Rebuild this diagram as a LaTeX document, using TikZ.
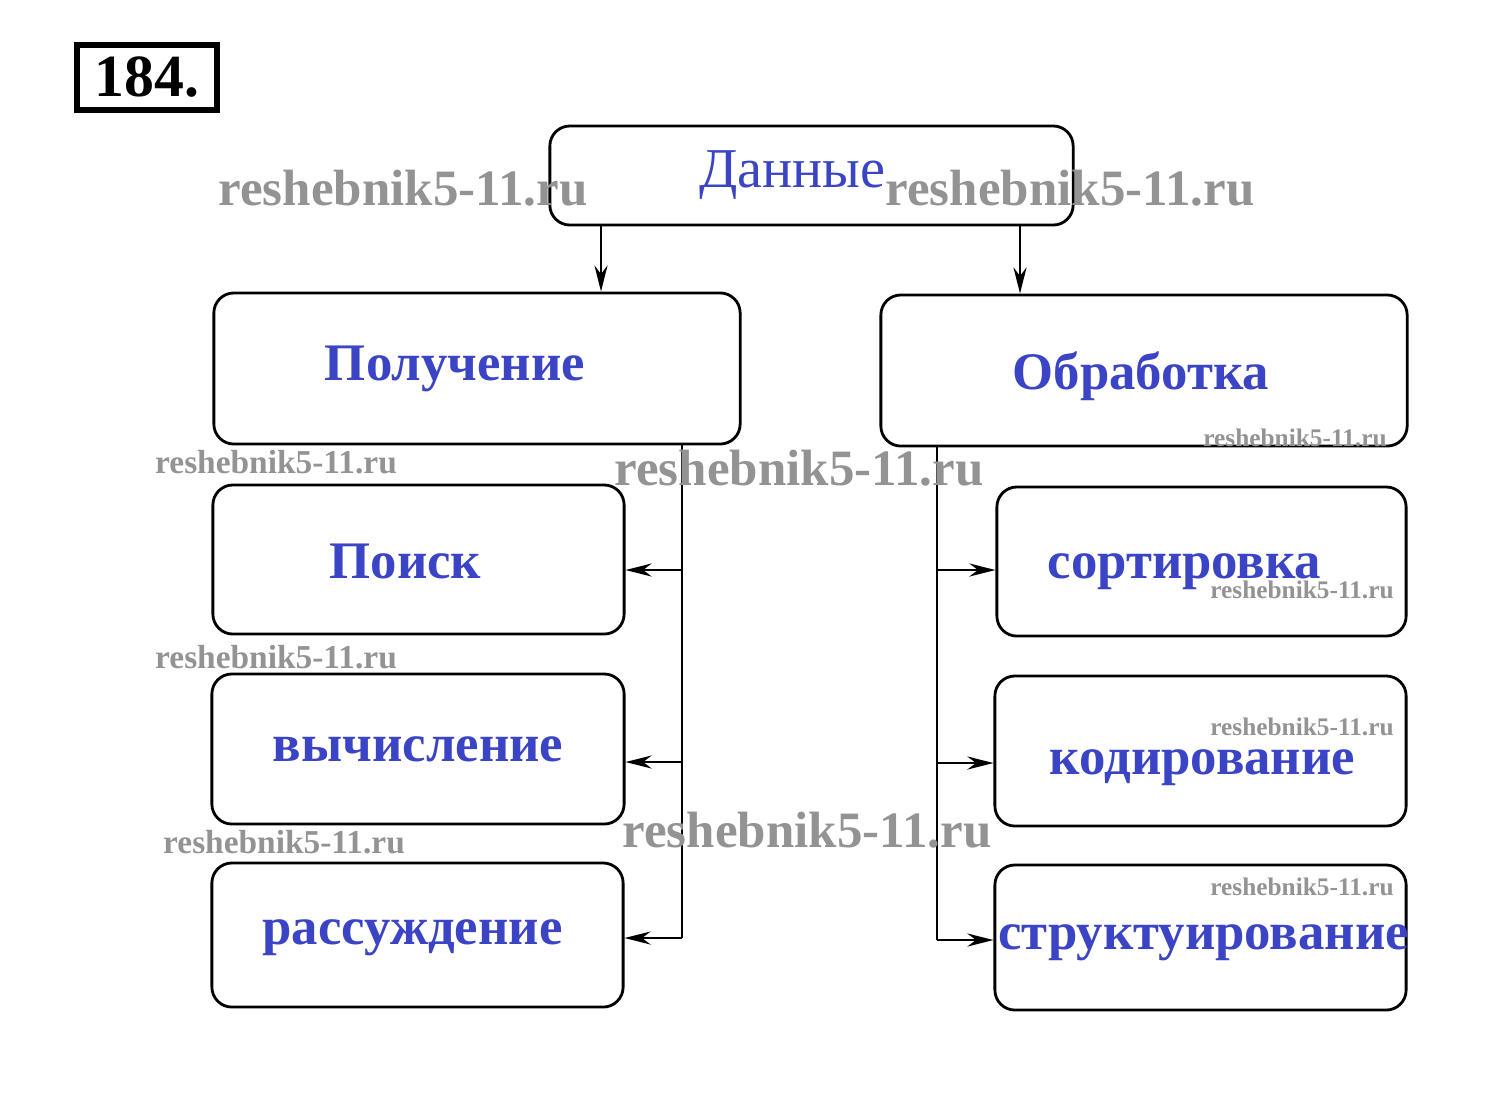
\documentclass[tikz,border=0pt]{standalone}
\usepackage{fontspec}
\setmainfont{Liberation Serif}
\usetikzlibrary{arrows.meta}
\definecolor{txtblue}{RGB}{58,68,196}
\tikzset{
 box/.style={draw,rounded corners=0.2cm,inner sep=0pt},
 lbl/.style={text=txtblue,font=\bfseries\fontsize{15}{18}\selectfont},
 arr/.style={-{Stealth[length=2.6mm,width=1.3mm]}},
 wmbig/.style={text=gray!85,font=\bfseries\fontsize{14.5}{16}\selectfont},
 wmmid/.style={text=gray!85,font=\bfseries\fontsize{9.5}{11}\selectfont},
 wmsml/.style={text=gray!85,font=\bfseries\fontsize{7.2}{9}\selectfont}
}
\begin{document}
\begin{tikzpicture}[x=0.01cm,y=-0.01cm,line width=0.8pt]
\useasboundingbox (0,0) rectangle (1489,1093);
\node[draw,line width=1.5pt,inner sep=0pt,minimum width=1.4cm,minimum height=0.65cm,font=\bfseries\fontsize{17}{20}\selectfont] (num) at (147,77.5) {184.};
\node[box,minimum width=5.23cm,minimum height=0.99cm,label={[lbl,font=\fontsize{16}{19}\selectfont,shift={(-19,0)}]center:Данные}] (dan) at (811.5,175.5) {};
\node[box,minimum width=5.26cm,minimum height=1.51cm,label={[lbl,shift={(-22,0)}]center:Получение}] (pol) at (477,368.5) {};
\node[box,minimum width=5.26cm,minimum height=1.51cm,label={[lbl,shift={(-3,6)}]center:Обработка}] (obr) at (1144,370.5) {};
\node[box,minimum width=4.11cm,minimum height=1.49cm,label={[lbl,shift={(-13,2)}]center:Поиск}] (poi) at (418.5,559.5) {};
\node[box,minimum width=4.12cm,minimum height=1.50cm,label={[lbl]center:вычисление}] (vych) at (418,749) {};
\node[box,minimum width=4.11cm,minimum height=1.44cm,label={[lbl,shift={(-5,3)}]center:рассуждение}] (ras) at (417.5,935) {};
\node[box,minimum width=4.09cm,minimum height=1.49cm,label={[lbl,shift={(-17,10)}]center:сортировка}] (sor) at (1201.5,561.5) {};
\node[box,minimum width=4.11cm,minimum height=1.50cm,label={[lbl,shift={(2,17)}]center:кодирование}] (kod) at (1200.5,751) {};
\node[box,minimum width=4.11cm,minimum height=1.45cm,label={[lbl,shift={(3,5)}]center:структуирование}] (str) at (1200.5,937.5) {};
\coordinate (a1) at (601,0);
\coordinate (a2) at (1020,0);
\coordinate (l1) at (682,570);
\coordinate (l2) at (682,762);
\coordinate (l3) at (682,938);
\coordinate (r1) at (937,570);
\coordinate (r2) at (937,763);
\coordinate (r3) at (937,940);
\draw[arr] (dan.south -| a1) -- (pol.north -| a1);
\draw[arr] (dan.south -| a2) -- (obr.north -| a2);
\draw (pol.south -| l1) -- (l3);
\draw (obr.south -| r1) -- (r3);
\foreach \c/\n in {l1/poi,l2/vych,l3/ras}
  \draw[arr] (\c) -- (\c -| \n.east);
\foreach \c/\n in {r1/sor,r2/kod,r3/str}
  \draw[arr] (\c) -- (\c -| \n.west);
\node[wmbig] (w1) at (403,188) {reshebnik5-11.ru};
\node[wmbig] (w2) at (1070,188) {reshebnik5-11.ru};
\node[wmbig] (w3) at (799,468) {reshebnik5-11.ru};
\node[wmbig] (w4) at (807,830) {reshebnik5-11.ru};
\node[wmmid] (w5) at (276,462) {reshebnik5-11.ru};
\node[wmmid] (w6) at (276,657) {reshebnik5-11.ru};
\node[wmmid] (w7) at (284,842) {reshebnik5-11.ru};
\node[wmsml] (w8) at (1295,438) {reshebnik5-11.ru};
\node[wmsml] (w9) at (1302,590) {reshebnik5-11.ru};
\node[wmsml] (w10) at (1302,727) {reshebnik5-11.ru};
\node[wmsml] (w11) at (1302,887) {reshebnik5-11.ru};
\end{tikzpicture}
\end{document}
